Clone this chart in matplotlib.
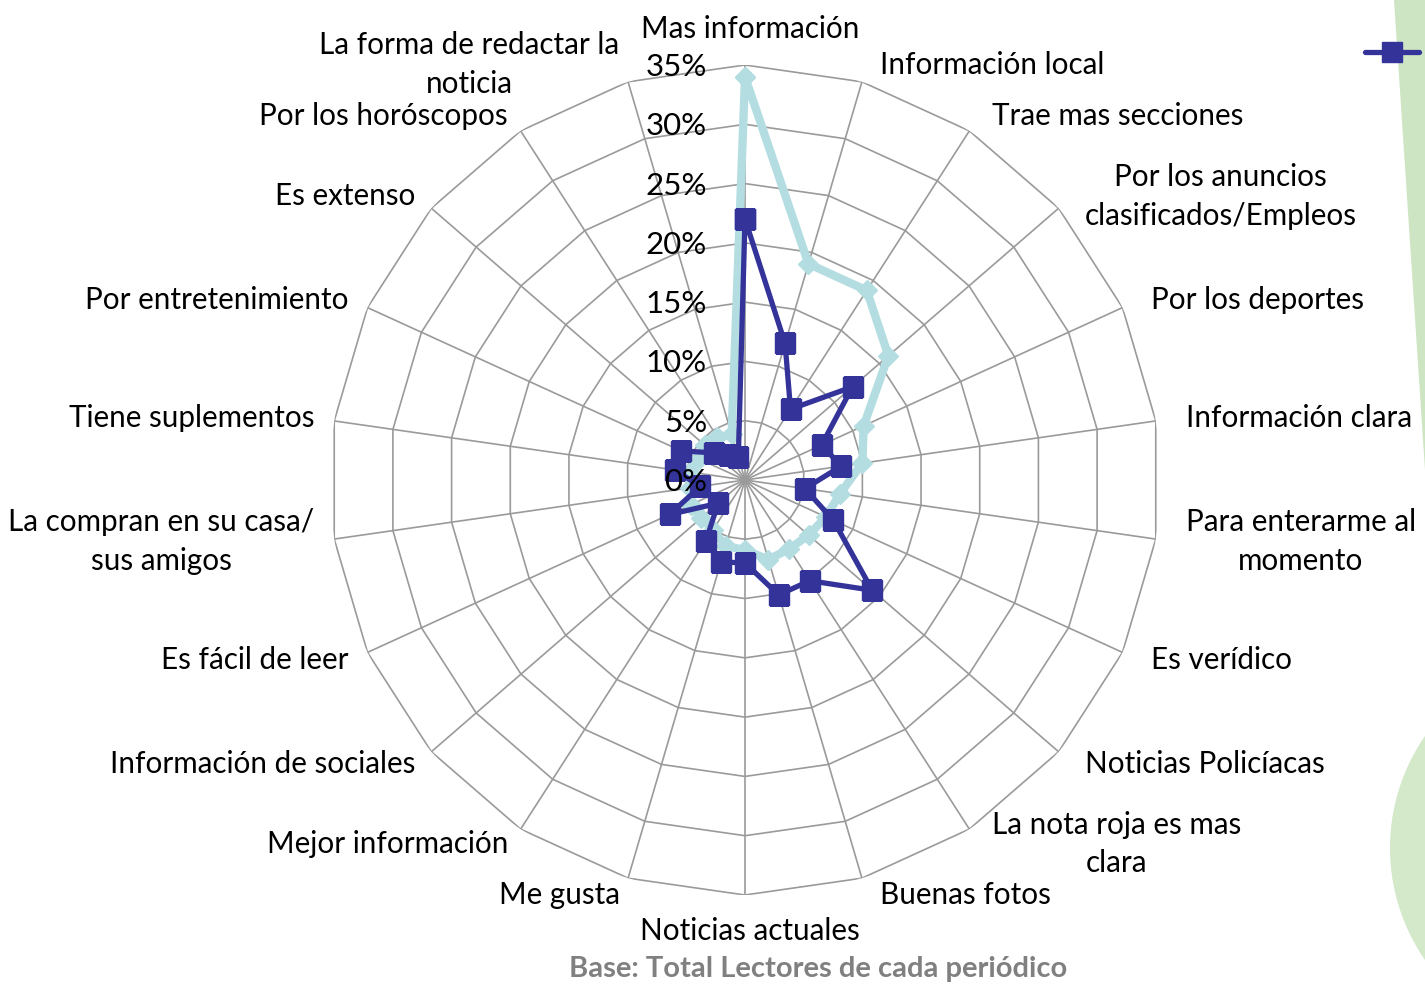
import numpy as np
import matplotlib
matplotlib.use("Agg")
import matplotlib.pyplot as plt
from matplotlib.lines import Line2D
from matplotlib.patches import Ellipse, Polygon

categories = ["Mas información", "Información local", "Trae mas secciones",
              "Por los anuncios\nclasificados/Empleos", "Por los deportes",
              "Información clara", "Para enterarme al\nmomento", "Es verídico",
              "Noticias Policíacas", "La nota roja es mas\nclara", "Buenas fotos",
              "Noticias actuales", "Me gusta", "Mejor información",
              "Información de sociales", "Es fácil de leer",
              "La compran en su casa/\nsus amigos", "Tiene suplementos",
              "Por entretenimiento", "Es extenso", "Por los horóscopos",
              "La forma de redactar la\nnoticia"]

serie_clara = [34, 19, 19, 16, 11, 10, 8.1, 7.5, 7.1, 6.9, 7.0, 5.9,
               5.8, 5.0, 4.9, 5.0, 4.7, 4.7, 4.3, 4.5, 4.3, 4.0]
serie_oscura = [22, 12, 7.1, 12, 7.1, 8.2, 5.1, 8.2, 14.2, 10.1, 10.1, 7.0,
                7.2, 6.1, 3.0, 7.0, 3.8, 6.0, 5.9, 3.5, 2.5, 2.0]

rticks = [0, 5, 10, 15, 20, 25, 30, 35]
rtick_labels = ["0%", "5%", "10%", "15%", "20%", "25%", "30%", "35%"]
caption = "Base: Total Lectores de cada periódico"

W, H = 1425, 985
fig = plt.figure(figsize=(W / 100, H / 100), dpi=100)
plt.rcParams['font.family'] = ['Lato', 'DejaVu Sans']

cx, cy, R = 745, 480, 415
ax = fig.add_axes([(cx - R) / W, 1 - (cy + R) / H, 2 * R / W, 2 * R / H],
                  projection='polar')
ax.set_theta_zero_location('N')
ax.set_theta_direction(-1)
ax.set_ylim(0, 35)
ax.grid(False)
ax.set_xticks([])
ax.set_yticks([])
ax.spines['polar'].set_visible(False)
ax.patch.set_alpha(0)

n = len(categories)
ang = np.arange(n) * 2 * np.pi / n
ang_c = np.append(ang, ang[0])

gcol = '#9a9a9a'
for r in rticks[1:]:
    ax.plot(ang_c, [r] * (n + 1), color=gcol, lw=1.2, zorder=1)
for a in ang:
    ax.plot([a, a], [0, 35], color=gcol, lw=1.2, zorder=1)

ax.plot(ang_c, np.append(serie_clara, serie_clara[0]), color='#B4DDE1', lw=6,
        marker='D', markersize=10, zorder=3)
ax.plot(ang_c, np.append(serie_oscura, serie_oscura[0]), color='#333399', lw=3.8,
        marker='s', markersize=14.5, zorder=4)

for r, lab in zip(rticks, rtick_labels):
    ax.annotate(lab, xy=(0, r), xytext=(-38, -2), textcoords='offset pixels',
                ha='right', va='center', fontsize=22.5, color='black', zorder=5)

for i, (a, lab) in enumerate(zip(ang, categories)):
    s, c = np.sin(a), np.cos(a)
    if abs(s) < 0.01:
        ha = 'center'
        dx, dy = 5, 36 * np.sign(c)
    elif s > 0:
        ha = 'left'
        dx, dy = 14 + 16 * abs(s), 18 * c
    else:
        ha = 'right'
        dx, dy = -(4 + 16 * abs(s)), 18 * c
    ax.annotate(lab, xy=(a, 35), xytext=(dx, dy), textcoords='offset pixels',
                ha=ha, va='center', ma='center', fontsize=21.3, linespacing=1.45,
                color='black', annotation_clip=False)

# decorative green shapes on right edge
fig.add_artist(Polygon([[1394 / W, 1], [1, 1], [1, 1 - 480 / H], [1425 / W, 1 - 470 / H]],
                       closed=True, transform=fig.transFigure, facecolor='#CDE5C2',
                       edgecolor='none', zorder=0))
fig.add_artist(Ellipse((1587 / W, 1 - 848 / H), 2 * 197 / W, 2 * 197 / H,
                       transform=fig.transFigure, facecolor='#D4E8CA',
                       edgecolor='none', zorder=0))

# legend handle (label cut off at the edge)
fig.add_artist(Line2D([1365 / W, 1419 / W], [1 - 52 / H, 1 - 52 / H],
                      transform=fig.transFigure, color='#333399', lw=3.8,
                      solid_capstyle='round'))
fig.add_artist(Line2D([1392 / W], [1 - 52 / H], transform=fig.transFigure,
                      color='#333399', marker='s', markersize=14.5, lw=0))

fig.text(818 / W, 1 - 969 / H, caption, ha='center', va='center', fontsize=21,
         fontweight='bold', color='#808080')

fig.savefig('out.png', dpi=100)
